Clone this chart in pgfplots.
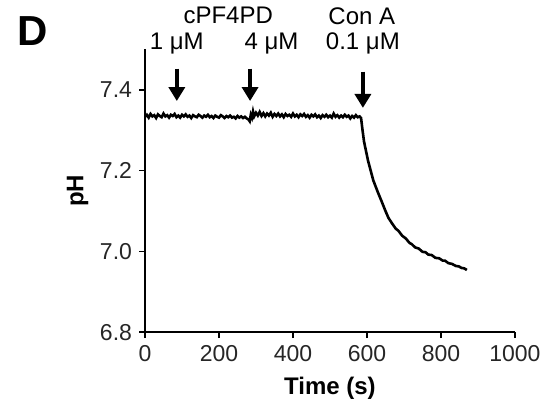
\documentclass[border=0pt]{standalone}
\usepackage{pgfplots}
\pgfplotsset{compat=1.18}
\usepackage{fontspec}
\setmainfont{Liberation Sans}
\usetikzlibrary{arrows.meta}
\begin{document}
\begin{tikzpicture}
\begin{axis}[
  scale only axis,
  width=185pt, height=141.5pt,
  xmin=0, xmax=1000, ymin=6.8, ymax=7.5,
  axis x line*=bottom, axis y line*=left,
  axis line style={line width=1pt},
  xtick={0,200,400,600,800,1000},
  ytick={6.8,7.0,7.2,7.4},
  xticklabel style={/pgf/number format/.cd,1000 sep={}},
  yticklabel style={/pgf/number format/.cd,fixed,fixed zerofill,precision=1},
  /pgf/number format/assume math mode=true,
  tick align=outside,
  major tick length=3pt,
  tick style={line width=0.8pt, black},
  ticklabel style={font=\fontsize{11.5}{13}\selectfont, text=black!85},
  xlabel={\textbf{Time (s)}},
  ylabel={\textbf{pH}},
  label style={font=\fontsize{12}{13}\selectfont},
  xlabel style={yshift=-1pt},
  ylabel style={yshift=-1pt},
  clip=false,
]
\addplot[black, line width=1.3pt] coordinates {
(0,7.333)(5,7.338)(10,7.331)(15,7.340)(20,7.334)(25,7.337)(30,7.330)(35,7.339)(40,7.335)(45,7.332)
(50,7.341)(55,7.334)(60,7.337)(65,7.331)(70,7.338)(75,7.335)(80,7.340)(85,7.332)(90,7.336)(95,7.331)
(100,7.338)(105,7.334)(110,7.339)(115,7.333)(120,7.336)(125,7.330)(130,7.337)(135,7.334)(140,7.332)(145,7.338)
(150,7.335)(155,7.331)(160,7.336)(165,7.333)(170,7.338)(175,7.332)(180,7.335)(185,7.330)(190,7.336)(195,7.333)
(200,7.331)(205,7.337)(210,7.334)(215,7.330)(220,7.335)(225,7.332)(230,7.336)(235,7.331)(240,7.333)(245,7.329)
(250,7.335)(255,7.331)(260,7.334)(265,7.330)(270,7.333)(275,7.329)(280,7.326)(283,7.322)(286,7.338)(289,7.331)
(292,7.346)(295,7.334)(300,7.343)(305,7.336)(310,7.345)(315,7.335)(320,7.342)(325,7.334)(330,7.341)(335,7.336)
(340,7.343)(345,7.333)(350,7.340)(355,7.335)(360,7.341)(365,7.334)(370,7.339)(375,7.332)(380,7.340)(385,7.335)
(390,7.338)(395,7.333)(400,7.341)(405,7.334)(410,7.338)(415,7.332)(420,7.339)(425,7.335)(430,7.340)(435,7.333)
(440,7.337)(445,7.331)(450,7.338)(455,7.334)(460,7.339)(465,7.332)(470,7.336)(475,7.330)(480,7.337)(485,7.333)
(490,7.338)(495,7.332)(500,7.336)(505,7.331)(510,7.341)(515,7.333)(520,7.337)(525,7.331)(530,7.336)(535,7.332)
(540,7.338)(545,7.333)(550,7.336)(555,7.329)(560,7.335)(565,7.331)(570,7.337)(575,7.332)(580,7.334)(584,7.330)
(588,7.300)(592,7.272)(597,7.250)(603,7.224)(610,7.200)(617,7.176)(622,7.164)(630,7.145)(640,7.123)(650,7.100)
(658,7.083)(668,7.069)(678,7.056)(685,7.051)(695,7.039)(705,7.032)(715,7.021)(721,7.018)(730,7.010)(740,7.007)
(750,6.999)(758,6.998)(766,6.992)(775,6.991)(785,6.984)(795,6.983)(805,6.977)(811,6.977)(820,6.971)(830,6.969)
(840,6.964)(848,6.963)(856,6.959)(863,6.958)(870,6.954)
};
% annotations
\tikzset{arr/.style={line width=2pt, -{Triangle[width=8pt,length=7pt]}}}
\draw[arr] (axis cs:86,7.452) -- (axis cs:86,7.372);
\draw[arr] (axis cs:284,7.452) -- (axis cs:284,7.372);
\draw[arr] (axis cs:589,7.445) -- (axis cs:589,7.355);
\node[font=\fontsize{12}{13}\selectfont] at (axis cs:225,7.583) {cPF4PD};
\node[font=\fontsize{12}{13}\selectfont] at (axis cs:86,7.514) {1 μM};
\node[font=\fontsize{12}{13}\selectfont] at (axis cs:342,7.514) {4 μM};
\node[font=\fontsize{12}{13}\selectfont] at (axis cs:586,7.583) {Con A};
\node[font=\fontsize{12}{13}\selectfont] at (axis cs:589,7.514) {0.1 μM};
\node[font=\bfseries\fontsize{21}{24}\selectfont] at (axis cs:-305,7.545) {D};
\path (axis cs:-392,6.620) rectangle (axis cs:1111,7.622);
\end{axis}
\end{tikzpicture}
\end{document}
